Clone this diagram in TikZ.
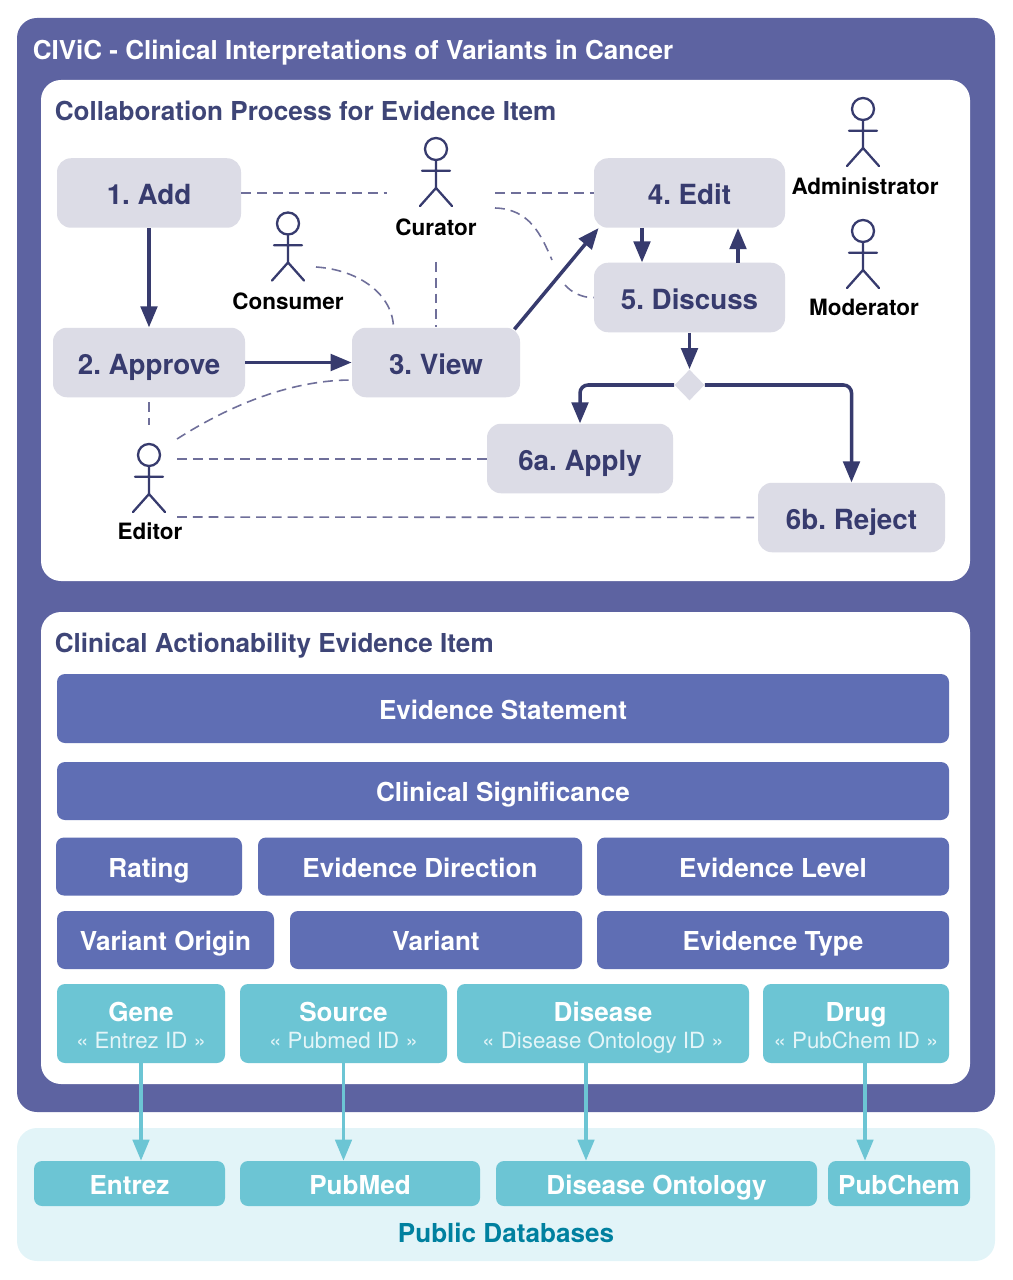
\documentclass[tikz,border=0pt]{standalone}
\usepackage{fontspec}
\setmainfont{TeX Gyre Heros}
\usetikzlibrary{arrows.meta,shapes.geometric}

\definecolor{civicpurple}{HTML}{5D63A1}
\definecolor{itemblue}{HTML}{5F6EB4}
\definecolor{stepgrey}{HTML}{DCDCE6}
\definecolor{stepink}{HTML}{373B6E}
\definecolor{titleink}{HTML}{3E4577}
\definecolor{dashink}{HTML}{6F6F9A}
\definecolor{linkteal}{HTML}{6CC5D4}
\definecolor{dbpale}{HTML}{E2F4F8}
\definecolor{dbink}{HTML}{00809F}
\definecolor{subwhite}{HTML}{E4F5F8}

\newdimen\px
\px=0.02cm

\tikzset{
    panel/.style={rounded corners=20\px, inner sep=0pt},
    paneltitle/.style={anchor=base west, inner sep=0pt, text=titleink,
        font=\fontsize{14.85}{16}\selectfont\bfseries},
    stepbox/.style={fill=stepgrey, rounded corners=14\px, inner sep=0pt, text=stepink,
        minimum height=69.5\px, text height=13.6pt, text depth=0pt,
        font=\fontsize{15.8}{17}\selectfont\bfseries},
    itembox/.style={fill=itemblue, rounded corners=8\px, inner sep=0pt, text=white,
        minimum height=58\px, text height=12.3pt, text depth=0pt,
        font=\fontsize{14.85}{16}\selectfont\bfseries},
    linkbox/.style={fill=linkteal, rounded corners=8\px, inner sep=0pt, text=white,
        minimum height=79\px, align=center, text depth=0pt,
        font=\fontsize{14.85}{15.3}\selectfont\bfseries},
    dbbox/.style={fill=linkteal, rounded corners=8\px, inner sep=0pt, text=white,
        minimum height=45\px, text height=12.6pt, text depth=0pt,
        font=\fontsize{14.85}{16}\selectfont\bfseries},
    actorlabel/.style={inner sep=0pt, text=black, text height=9.6pt, text depth=0pt,
        font=\fontsize{12.8}{14}\selectfont\bfseries},
    flow/.style={draw=stepink, line width=2pt, -{Triangle[length=0.42cm,width=0.33cm]}},
    link/.style={draw=linkteal, line width=1.8pt, -{Triangle[length=0.42cm,width=0.33cm]}},
    dashlink/.style={draw=dashink, line width=0.9pt, dash pattern=on 5.6pt off 3.4pt},
    actor/.pic={
        \draw[stepink, line width=1.3pt] (0,0) circle (11);
        \draw[stepink, line width=1.3pt, line cap=round] (0,11) -- (0,39)
            (-14,21.7) -- (14,21.7)
            (-16,57) -- (0,39) -- (16,57);
    },
}

\newcommand{\linktext}[2]{\raisebox{-2.3pt}{#1}\\\raisebox{-2.3pt}{\fontsize{12.7}{15.3}\selectfont\mdseries\color{subwhite}\vphantom{g}#2}}

\begin{document}
\frenchspacing
\begin{tikzpicture}[x=0.02cm, y=-0.02cm]
    \useasboundingbox (0,0) rectangle (1013,1280);
    % panels
    \node[panel, fill=civicpurple, minimum width=978\px, minimum height=1094\px] (civic) at (506,565) {};
    \node[panel, fill=white, minimum width=929\px, minimum height=501\px] (process) at (505.5,330.5) {};
    \node[panel, fill=white, minimum width=929\px, minimum height=472\px] (item) at (505.5,848) {};
    \node[panel, fill=dbpale, minimum width=978\px, minimum height=133\px] (databases) at (506,1194.5) {};
    \node[paneltitle, text=white, font=\fontsize{14.8}{17}\selectfont\bfseries] (civictitle) at (32.5,60) {CIViC - Clinical Interpretations of Variants in Cancer};
    \node[paneltitle] (processtitle) at (54.5,121) {Collaboration Process for Evidence Item};
    \node[paneltitle] (itemtitle) at (54.5,652) {Clinical Actionability Evidence Item};
    \node[inner sep=0pt, text=dbink, font=\fontsize{14.85}{16}\selectfont\bfseries] (dbtitle) at (506,1233) {Public Databases};

    % process steps
    \node[stepbox, minimum width=184\px] (add) at (149,193) {1. Add};
    \node[stepbox, minimum width=192\px] (approve) at (149,362.5) {2. Approve};
    \node[stepbox, minimum width=168\px] (view) at (436,362.5) {3. View};
    \node[stepbox, minimum width=191\px] (edit) at (689.5,193) {4. Edit};
    \node[stepbox, minimum width=191\px] (discuss) at (689.5,297.5) {5. Discuss};
    \node[diamond, fill=stepgrey, inner sep=0pt, minimum width=30\px, minimum height=31\px] (decision) at (689.5,385) {};
    \node[stepbox, minimum width=186\px] (apply) at (580,458.5) {6a. Apply};
    \node[stepbox, minimum width=187\px] (reject) at (851.5,517.5) {6b. Reject};

    % actors
    \pic at (436,149) {actor};
    \node[actorlabel] (curator) at (436,227) {Curator};
    \pic at (288,223.5) {actor};
    \node[actorlabel] (consumer) at (288,301) {Consumer};
    \pic at (149,455) {actor};
    \node[actorlabel] (editor) at (150,531) {Editor};
    \pic at (863,109) {actor};
    \node[actorlabel] (administrator) at (865,186) {Administrator};
    \pic at (863,231) {actor};
    \node[actorlabel] (moderator) at (864,307) {Moderator};

    % free ends of the dashed lines
    \coordinate (curatorwest) at (387,193);
    \coordinate (curatoreast) at (495,193);
    \coordinate (curatorcurve) at (495,208);
    \coordinate (curatorsouth) at (436,262);
    \coordinate (consumereast) at (316,267);
    \coordinate (viewtop) at (393.5,328);
    \coordinate (editornorth) at (149,425);
    \coordinate (approvefoot) at (149,402);
    \coordinate (editorcurve) at (177,439);
    \coordinate (viewleft) at (352,380);
    \coordinate (editorapply) at (177,459);
    \coordinate (applyleft) at (apply.west |- editorapply);
    \coordinate (editorreject) at (177,517);
    \coordinate (rejectleft) at (754,517.5);
    \coordinate (gapabove) at (552,260);
    \coordinate (gapbelow) at (565,285);

    \draw[dashlink] (add.east) -- (curatorwest);
    \draw[dashlink] (curatoreast) -- (edit.west);
    \draw[dashlink] (curatorsouth) -- (view.north);
    \draw[dashlink] (curatorcurve) .. controls (530,209) and (541,235) .. (gapabove);
    \draw[dashlink] (gapbelow) .. controls (571,292) and (582,298) .. (discuss.west);
    \draw[dashlink] (consumereast) .. controls (360,270) and (393,295) .. (viewtop);
    \draw[dashlink] (approvefoot) -- (editornorth);
    \draw[dashlink] (editorcurve) .. controls (235,402) and (295,380) .. (viewleft);
    \draw[dashlink] (editorapply) -- (applyleft);
    \draw[dashlink] (editorreject) -- (rejectleft);

    % process arrows
    \coordinate (editdown) at (642,228);
    \coordinate (discussup) at (738,263);
    \draw[flow] (add) -- (approve);
    \draw[flow] (approve) -- (view);
    \draw[flow] ([xshift=-3.4pt,yshift=-1.1pt]view.north east) -- ([xshift=2.8pt]edit.south west);
    \draw[flow] (editdown) -- (editdown |- discuss.north);
    \draw[flow] (discussup) -- (discussup |- edit.south);
    \draw[flow] (discuss) -- (decision);
    \draw[flow, rounded corners=8\px] (decision.west) -| (apply.north);
    \draw[flow, rounded corners=8\px] (decision.east) -| (reject.north);

    % evidence item fields
    \node[itembox, minimum width=892\px, minimum height=69\px] (statement) at (503,708.5) {Evidence Statement};
    \node[itembox, minimum width=892\px] (significance) at (503,791) {Clinical Significance};
    \node[itembox, minimum width=186\px] (rating) at (149,866.5) {Rating};
    \node[itembox, minimum width=324\px] (direction) at (420,866.5) {Evidence Direction};
    \node[itembox, minimum width=352\px] (level) at (773,866.5) {Evidence Level};
    \node[itembox, minimum width=217\px] (origin) at (165.5,940) {Variant Origin};
    \node[itembox, minimum width=292\px] (variant) at (436,940) {Variant};
    \node[itembox, minimum width=352\px] (type) at (773,940) {Evidence Type};
    \node[linkbox, minimum width=168\px] (gene) at (141,1023.5) {\linktext{Gene}{« Entrez ID »}};
    \node[linkbox, minimum width=207\px] (source) at (343.5,1023.5) {\linktext{Source}{« Pubmed ID »}};
    \node[linkbox, minimum width=292\px] (disease) at (603,1023.5) {\linktext{Disease}{« Disease Ontology ID »}};
    \node[linkbox, minimum width=186\px] (drug) at (856,1023.5) {\linktext{Drug}{« PubChem ID »}};

    % databases
    \node[dbbox, minimum width=191\px] (entrez) at (129.5,1183.5) {Entrez};
    \node[dbbox, minimum width=240\px] (pubmed) at (360,1183.5) {PubMed};
    \node[dbbox, minimum width=321\px] (ontology) at (656.5,1183.5) {Disease Ontology};
    \node[dbbox, minimum width=142\px] (pubchem) at (899,1183.5) {PubChem};

    \coordinate (diseaselink) at (586,1063);
    \coordinate (druglink) at (865,1063);
    \draw[link] (gene.south) -- (gene.south |- entrez.north);
    \draw[link] (source.south) -- (source.south |- pubmed.north);
    \draw[link] (diseaselink) -- (diseaselink |- ontology.north);
    \draw[link] (druglink) -- (druglink |- pubchem.north);
\end{tikzpicture}
\end{document}
